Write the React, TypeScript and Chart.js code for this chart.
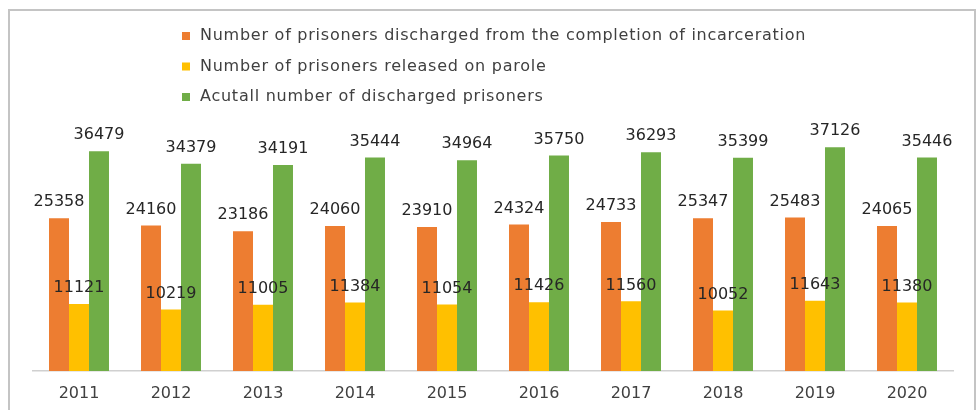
import React, { useEffect, useRef } from "react";
import { Chart, registerables } from "chart.js";

Chart.register(...registerables);

const years = ["2011", "2012", "2013", "2014", "2015", "2016", "2017", "2018", "2019", "2020"];
const completion = [25358, 24160, 23186, 24060, 23910, 24324, 24733, 25347, 25483, 24065];
const parole = [11121, 10219, 11005, 11384, 11054, 11426, 11560, 10052, 11643, 11380];
const actual = [36479, 34379, 34191, 35444, 34964, 35750, 36293, 35399, 37126, 35446];
const seriesNames = [
  "Number of prisoners discharged from the completion of incarceration",
  "Number of prisoners released on parole",
  "Acutall number of discharged prisoners",
];
const seriesColors = ["#ED7D31", "#FFC000", "#70AD47"];

const FONT = "DejaVu Sans";

const framePlugin = {
  id: "frame",
  beforeDraw(chart: any) {
    const ctx = chart.ctx;
    ctx.save();
    ctx.fillStyle = "#ffffff";
    ctx.fillRect(0, 0, chart.width, chart.height);
    ctx.strokeStyle = "#c4c4c4";
    ctx.lineWidth = 2;
    ctx.beginPath();
    ctx.moveTo(9, chart.height + 5);
    ctx.lineTo(9, 10);
    ctx.lineTo(chart.width - 1, 10);
    ctx.lineTo(chart.width - 1, chart.height + 5);
    ctx.stroke();
    ctx.restore();
  },
};

const legendPlugin = {
  id: "stackLegend",
  afterDraw(chart: any) {
    const ctx = chart.ctx;
    ctx.save();
    ctx.font = `16px "${FONT}"`;
    ctx.textBaseline = "middle";
    ctx.textAlign = "left";
    try {
      ctx.letterSpacing = "0.75px";
    } catch (e) {}
    chart.data.datasets.forEach((ds: any, i: number) => {
      const y = 36 + i * 30.5;
      ctx.fillStyle = ds.backgroundColor;
      ctx.fillRect(182, y - 4, 8, 8);
      ctx.fillStyle = "#404040";
      ctx.fillText(ds.label, 200, y);
    });
    ctx.restore();
  },
};

const valueLabelPlugin = {
  id: "valueLabels",
  afterDatasetsDraw(chart: any) {
    const ctx = chart.ctx;
    ctx.save();
    ctx.font = `16px "${FONT}"`;
    ctx.fillStyle = "#262626";
    ctx.textAlign = "center";
    ctx.textBaseline = "middle";
    chart.data.datasets.forEach((ds: any, i: number) => {
      const meta = chart.getDatasetMeta(i);
      meta.data.forEach((bar: any, j: number) => {
        ctx.fillText(String(ds.data[j]), bar.x, bar.y - 16);
      });
    });
    ctx.restore();
  },
};

export default function App() {
  const ref = useRef<HTMLCanvasElement | null>(null);
  useEffect(() => {
    if (!ref.current) return;
    const chart = new Chart(ref.current, {
      type: "bar",
      data: {
        labels: years,
        datasets: [
          { label: seriesNames[0], data: completion, backgroundColor: seriesColors[0] },
          { label: seriesNames[1], data: parole, backgroundColor: seriesColors[1] },
          { label: seriesNames[2], data: actual, backgroundColor: seriesColors[2] },
        ],
      },
      options: {
        responsive: false,
        animation: false,
        layout: { padding: { top: 130, left: 33, right: 23, bottom: 0 } },
        datasets: { bar: { categoryPercentage: 0.652, barPercentage: 1 } },
        plugins: { legend: { display: false }, tooltip: { enabled: false } },
        scales: {
          x: {
            grid: { display: false, drawTicks: false },
            border: { display: true, color: "#d0d0d0", width: 1.5 },
            ticks: { font: { family: FONT, size: 16 }, color: "#404040", padding: 13 },
            afterFit: (scale: any) => {
              scale.height = 39;
            },
          },
          y: { display: false, min: 0, max: 40000 },
        },
      },
      plugins: [framePlugin, legendPlugin, valueLabelPlugin],
    });
    return () => chart.destroy();
  }, []);
  return (
    <div style={{ position: "fixed", left: 0, top: 0, width: 976, height: 410, background: "#fff" }}>
      <canvas ref={ref} width={976} height={410} style={{ display: "block" }} />
    </div>
  );
}
